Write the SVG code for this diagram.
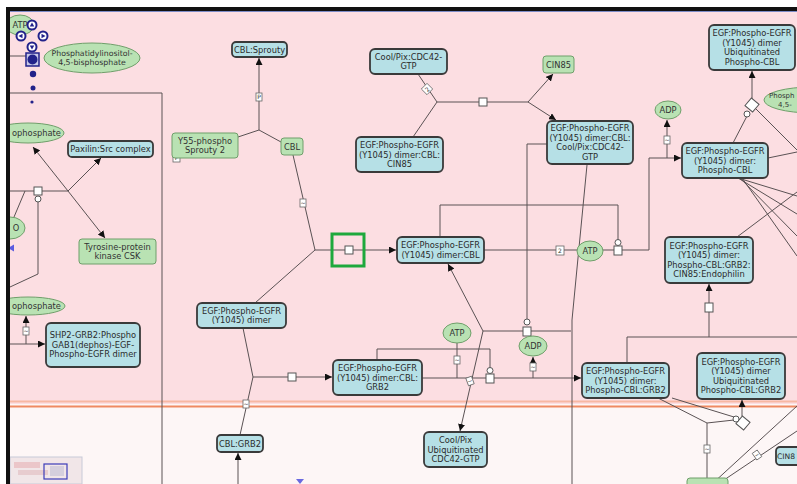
<svg xmlns="http://www.w3.org/2000/svg" width="797" height="484" viewBox="0 0 797 484">
<defs>
<marker id="arr" markerUnits="userSpaceOnUse" markerWidth="7" markerHeight="7" refX="7" refY="3.5" orient="auto"><path d="M0,0L7,3.5L0,7z" fill="#111"/></marker>
</defs>
<style>
.ln{fill:none;stroke:#5a5254;stroke-width:1}
.ar{marker-end:url(#arr)}
.cx{fill:#b6e0e6;stroke:#3a3a3a;stroke-width:1.8}
.sm{fill:#b9e2b3;stroke:#6f9f6a;stroke-width:1}
.t{font-family:"DejaVu Sans",sans-serif;font-size:8.3px;fill:#2b2b2b;text-anchor:middle}
.tg{font-family:"DejaVu Sans",sans-serif;font-size:8.3px;fill:#333;text-anchor:middle}
.pr{fill:#fff;stroke:#555;stroke-width:1}
.gl{fill:#fff;stroke:#666;stroke-width:0.8}
.gt{font-family:"DejaVu Sans",sans-serif;font-size:6px;fill:#333;text-anchor:middle}
.nav{fill:#fff;stroke:#22228a;stroke-width:2}
.navf{fill:#22228a}
</style>
<!-- canvas: pink cytosol, pale lower compartment -->
<rect x="0" y="0" width="797" height="484" fill="#fcdee2"/>
<rect x="0" y="404" width="797" height="80" fill="#fdf6f6"/>
<line x1="0" y1="401.5" x2="797" y2="401.5" stroke="#f7b8a4" stroke-width="2"/>
<line x1="0" y1="406.5" x2="797" y2="406.5" stroke="#ef8a62" stroke-width="2"/>

<g id="connectors">
<path class="ln" d="M10,56H26"/>
<path class="ln" d="M10,93H162V484"/>
<path class="ln" d="M10,191H68"/>
<path class="ln ar" d="M68,191L101,158"/>
<path class="ln ar" d="M68,191L33,147"/>
<path class="ln ar" d="M68,191L105,238"/>
<path class="ln" d="M25,191L14,217"/>
<path class="ln" d="M38,202V274L10,287"/>
<path class="ln ar" d="M10,344H45"/>
<path class="ln ar" d="M26,344V316"/>

<path class="ln ar" d="M259,130V58"/>
<path class="ln" d="M238,137L259,130L281,142"/>
<path class="ln" d="M293,155L315,250L255,303"/>
<path class="ln ar" d="M315,250H396"/>
<path class="ln" d="M243,328L253,377L240,435"/>
<path class="ln ar" d="M238,484V453"/>
<path class="ln ar" d="M253,377H332"/>
<path class="ln ar" d="M422,378H581"/>
<path class="ln ar" d="M533,378V357"/>
<path class="ln" d="M457,343V378"/>
<path class="ln" d="M377,360V349H490V368"/>
<path class="ln ar" d="M483,331L448,264"/>
<path class="ln ar" d="M483,331L460,431"/>
<path class="ln" d="M483,331H571"/>
<path class="ln" d="M547,144H527V319"/>
<path class="ln" d="M587,165L572,320V484"/>
<path class="ln" d="M440,237V205H618V240"/>
<path class="ln ar" d="M484,250H649V158H681"/>
<path class="ln ar" d="M667,158V120"/>
<path class="ln" d="M418,74L437,102L413,137"/>
<path class="ln" d="M437,102H528"/>
<path class="ln ar" d="M528,102L553,74"/>
<path class="ln ar" d="M528,102L556,120"/>

<path class="ln ar" d="M752,100V71"/>
<path class="ln" d="M747,116L733,143"/>
<path class="ln" d="M756,109L797,150"/>
<path class="ln" d="M768,158L797,152"/>
<path class="ln" d="M738,178L797,196M738,178L797,214M740,178L797,236M742,178L797,256"/>
<path class="ln" d="M737,237L797,192"/>
<path class="ln ar" d="M709,337V284"/>
<path class="ln" d="M627,363V337H797"/>
<path class="ln" d="M658,398L707,423L734,420"/>
<path class="ln" d="M672,398L734,417"/>
<path class="ln" d="M707,423V484"/>
<path class="ln ar" d="M742,416V400"/>
<path class="ln" d="M712,484L797,406"/>
<path class="ln" d="M718,484L797,431"/>
</g>

<g id="glyphs">
<rect class="pr" x="34" y="187" width="8" height="8"/><circle class="pr" cx="38" cy="199" r="3"/>
<rect class="pr" x="345" y="246" width="8" height="8"/>
<rect x="332" y="234" width="32" height="32" fill="none" stroke="#1ea83c" stroke-width="3"/>
<rect class="pr" x="288" y="373" width="8" height="8"/>
<rect class="pr" x="479" y="98" width="8" height="8"/>
<rect class="pr" x="486" y="374" width="8" height="9"/><circle class="pr" cx="490" cy="370.5" r="3"/>
<rect class="pr" x="523" y="327" width="8" height="9"/><circle class="pr" cx="527" cy="322" r="3"/>
<rect class="pr" x="614" y="246" width="8" height="9"/><circle class="pr" cx="618" cy="242.5" r="3"/>
<rect class="pr" x="705" y="303" width="8" height="9"/>
<rect class="pr" x="747" y="100" width="10" height="10" transform="rotate(40 752 105)"/><circle class="pr" cx="747" cy="114" r="3"/>
<rect class="pr" x="738" y="418" width="10" height="10" transform="rotate(40 743 423)"/><circle class="pr" cx="736" cy="419" r="3"/>

<g><rect class="gl" x="256" y="93" width="6" height="8"/><text class="gt" x="259" y="99">P</text></g>
<g><rect class="gl" x="173" y="154" width="7" height="8"/><text class="gt" x="176.5" y="160">P</text></g>
<g><rect class="gl" x="300" y="199" width="6" height="8"/><text class="gt" x="303" y="205">~</text></g>
<g><rect class="gl" x="243" y="400" width="6" height="8"/><text class="gt" x="246" y="406">~</text></g>
<g><rect class="gl" x="454" y="356" width="6" height="8"/><text class="gt" x="457" y="362">~</text></g>
<g transform="rotate(-20 470 381)"><rect class="gl" x="467" y="377" width="6" height="8"/><text class="gt" x="470" y="383">~</text></g>
<g><rect class="gl" x="530" y="363" width="6" height="8"/><text class="gt" x="533" y="369">~</text></g>
<g><rect class="gl" x="664" y="136" width="6" height="8"/><text class="gt" x="667" y="142">~</text></g>
<g transform="rotate(-45 427 89)"><rect class="gl" x="423" y="85" width="8" height="8"/><text class="gt" x="427" y="91.5">2</text></g>
<g><rect class="gl" x="556" y="246" width="8" height="9"/><text class="gt" x="560" y="252.5">2</text></g>
<g><rect class="gl" x="23" y="327" width="6" height="8"/><text class="gt" x="26" y="333">~</text></g>
<g><rect class="gl" x="704" y="445" width="6" height="8"/><text class="gt" x="707" y="451">~</text></g>
<g transform="rotate(-35 757 455)"><rect class="gl" x="754" y="451" width="6" height="8"/><text class="gt" x="757" y="457">~</text></g>
</g>

<!-- complexes -->
<g id="cbl-sprouty"><rect class="cx" x="232" y="42" width="55" height="15" rx="4"/><text class="t" x="259.5" y="52.5">CBL:Sprouty</text></g>
<g id="coolpix-cdc42"><rect class="cx" x="370" y="49" width="77" height="25" rx="5"/><text class="t" x="408.5" y="59.5">Cool/Pix:CDC42-</text><text class="t" x="408.5" y="69">GTP</text></g>
<g id="egfr-cbl-cin85"><rect class="cx" x="356" y="137" width="87" height="35" rx="5"/><text class="t" x="399.5" y="148">EGF:Phospho-EGFR</text><text class="t" x="399.5" y="157.5">(Y1045) dimer:CBL:</text><text class="t" x="399.5" y="167">CIN85</text></g>
<g id="egfr-cbl-coolpix"><rect class="cx" x="547" y="121" width="86" height="43" rx="5"/><text class="t" x="590" y="131">EGF:Phospho-EGFR</text><text class="t" x="590" y="140.5">(Y1045) dimer:CBL:</text><text class="t" x="590" y="150">Cool/Pix:CDC42-</text><text class="t" x="590" y="159.5">GTP</text></g>
<g id="egfr-ub-pcbl"><rect class="cx" x="709" y="25" width="86" height="45" rx="5"/><text class="t" x="752" y="36">EGF:Phospho-EGFR</text><text class="t" x="752" y="45.5">(Y1045) dimer</text><text class="t" x="752" y="55">Ubiquitinated</text><text class="t" x="752" y="64.5">Phospho-CBL</text></g>
<g id="egfr-pcbl"><rect class="cx" x="682" y="143" width="86" height="35" rx="5"/><text class="t" x="725" y="154">EGF:Phospho-EGFR</text><text class="t" x="725" y="163.5">(Y1045) dimer:</text><text class="t" x="725" y="173">Phospho-CBL</text></g>
<g id="egfr-cbl"><rect class="cx" x="397" y="237" width="87" height="26" rx="5"/><text class="t" x="440.5" y="248">EGF:Phospho-EGFR</text><text class="t" x="440.5" y="257.5">(Y1045) dimer:CBL</text></g>
<g id="egfr-endophilin"><rect class="cx" x="665" y="237" width="88" height="46" rx="5"/><text class="t" x="709" y="248.5">EGF:Phospho-EGFR</text><text class="t" x="709" y="258">(Y1045) dimer:</text><text class="t" x="709" y="267.5">Phospho-CBL:GRB2:</text><text class="t" x="709" y="277">CIN85:Endophilin</text></g>
<g id="egfr-dimer"><rect class="cx" x="197" y="303" width="89" height="25" rx="5"/><text class="t" x="241.5" y="313.5">EGF:Phospho-EGFR</text><text class="t" x="241.5" y="323">(Y1045) dimer</text></g>
<g id="egfr-cbl-grb2"><rect class="cx" x="333" y="360" width="89" height="35" rx="5"/><text class="t" x="377.5" y="371">EGF:Phospho-EGFR</text><text class="t" x="377.5" y="380.5">(Y1045) dimer:CBL:</text><text class="t" x="377.5" y="390">GRB2</text></g>
<g id="egfr-pcbl-grb2"><rect class="cx" x="582" y="363" width="87" height="35" rx="5"/><text class="t" x="625.5" y="374">EGF:Phospho-EGFR</text><text class="t" x="625.5" y="383.5">(Y1045) dimer:</text><text class="t" x="625.5" y="393">Phospho-CBL:GRB2</text></g>
<g id="egfr-ub-pcbl-grb2"><rect class="cx" x="697" y="353" width="88" height="46" rx="5"/><text class="t" x="741" y="364.5">EGF:Phospho-EGFR</text><text class="t" x="741" y="374">(Y1045) dimer</text><text class="t" x="741" y="383.5">Ubiquitinated</text><text class="t" x="741" y="393">Phospho-CBL:GRB2</text></g>
<g id="coolpix-ub"><rect class="cx" x="424" y="432" width="63" height="35" rx="5"/><text class="t" x="455.5" y="443">Cool/Pix</text><text class="t" x="455.5" y="452.5">Ubiquitinated</text><text class="t" x="455.5" y="462">CDC42-GTP</text></g>
<g id="cbl-grb2"><rect class="cx" x="217" y="435" width="46" height="17" rx="4"/><text class="t" x="240" y="446.5">CBL:GRB2</text></g>
<g id="paxilin-src"><rect class="cx" x="68" y="141" width="85" height="16" rx="4"/><text class="t" x="110.5" y="152">Paxilin:Src complex</text></g>
<g id="shp2-grb2"><rect class="cx" x="46" y="323" width="94" height="44" rx="5"/><text class="t" x="93" y="338">SHP2-GRB2:Phospho</text><text class="t" x="93" y="347.5">GAB1(dephos)-EGF-</text><text class="t" x="93" y="357">Phospho-EGFR dimer</text></g>
<g id="cin85-cx"><rect class="cx" x="776" y="447" width="30" height="18" rx="4"/><text class="t" x="777" y="459" style="text-anchor:start;font-size:7.6px">CIN8</text></g>

<!-- simple entities -->
<g id="y55-sprouty2"><rect class="sm" x="172" y="133" width="66" height="25" rx="3"/><text class="tg" x="205" y="143.5">Y55-phospho</text><text class="tg" x="205" y="153">Sprouty 2</text></g>
<g id="cbl"><rect class="sm" x="281" y="138" width="22" height="17" rx="3"/><text class="tg" x="292" y="149.5">CBL</text></g>
<g id="csk"><rect class="sm" x="79" y="239" width="77" height="25" rx="3"/><text class="tg" x="117.5" y="249.5">Tyrosine-protein</text><text class="tg" x="117.5" y="259">kinase CSK</text></g>
<g id="cin85"><rect class="sm" x="543" y="56" width="31" height="17" rx="3"/><text class="tg" x="558.5" y="67.5">CIN85</text></g>
<g id="bottom-entity"><rect class="sm" x="687" y="478" width="41" height="12" rx="3"/></g>

<g id="atp-tl"><ellipse class="sm" cx="20" cy="25" rx="14" ry="10"/><text class="tg" x="20" y="28">ATP</text></g>
<g id="pip2-l"><ellipse class="sm" cx="92" cy="58" rx="48" ry="15"/><text class="tg" x="92" y="56" style="font-size:7.8px">Phosphatidylinositol-</text><text class="tg" x="92" y="65" style="font-size:7.8px">4,5-bisphosphate</text></g>
<g id="pip-a"><ellipse class="sm" cx="28" cy="133" rx="36" ry="10"/><text class="tg" x="12" y="136" style="text-anchor:start">ophosphate</text></g>
<g id="h2o"><ellipse class="sm" cx="10" cy="228" rx="15" ry="11"/><text class="tg" x="16" y="231">O</text></g>
<g id="pip-b"><ellipse class="sm" cx="28" cy="306" rx="37" ry="9"/><text class="tg" x="12" y="309" style="text-anchor:start">ophosphate</text></g>
<g id="atp-1"><ellipse class="sm" cx="457" cy="333" rx="14" ry="10"/><text class="tg" x="457" y="336">ATP</text></g>
<g id="adp-1"><ellipse class="sm" cx="533" cy="346" rx="14" ry="10"/><text class="tg" x="533" y="349">ADP</text></g>
<g id="atp-2"><ellipse class="sm" cx="590" cy="251" rx="13" ry="10"/><text class="tg" x="590" y="254">ATP</text></g>
<g id="adp-2"><ellipse class="sm" cx="668" cy="110" rx="13" ry="9"/><text class="tg" x="668" y="113">ADP</text></g>
<g id="pip2-r"><ellipse class="sm" cx="812" cy="100" rx="48" ry="13"/><text class="tg" x="769" y="98" style="text-anchor:start;font-size:7px">Phosph</text><text class="tg" x="778" y="107" style="text-anchor:start;font-size:7px">4,5-</text></g>

<!-- markers and view controls -->
<path d="M8,248L14,244.5V251.5z" fill="#5a5ae0"/>
<path d="M296,479H304L300,484z" fill="#6a6ae0"/>
<g id="minimap">
<rect x="10" y="457" width="72" height="27" fill="#f1e6e8" stroke="#c8cad8" stroke-width="1"/>
<rect x="14" y="462" width="26" height="6" fill="#e8b8bc" opacity="0.7"/>
<rect x="18" y="470" width="30" height="5" fill="#e2c0c4" opacity="0.7"/>
<rect x="50" y="466" width="14" height="10" fill="#c9c4d8" opacity="0.7"/>
<rect x="44" y="464" width="23" height="15" fill="none" stroke="#3c3cb8" stroke-width="1.2"/>
</g>
<g id="nav">
<circle class="nav" cx="32" cy="25" r="4.5"/><path class="navf" d="M32,22.5L34.3,26.5H29.7z"/>
<circle class="nav" cx="21" cy="36" r="4.5"/><path class="navf" d="M18.5,36L22.5,33.7V38.3z"/>
<circle class="nav" cx="43" cy="36" r="4.5"/><path class="navf" d="M45.5,36L41.5,33.7V38.3z"/>
<circle class="nav" cx="32" cy="47" r="4.5"/><path class="navf" d="M32,49.5L34.3,45.5H29.7z"/>
<rect x="26" y="53" width="13" height="13" fill="#c8c8e8" stroke="#22228a" stroke-width="1.5"/><circle class="navf" cx="32.5" cy="59.5" r="5"/>
<circle class="navf" cx="33" cy="74" r="3.2"/>
<circle class="navf" cx="33" cy="88" r="2.5"/>
<circle class="navf" cx="32" cy="102" r="1.6"/>
</g>

<!-- window frame -->
<rect x="0" y="0" width="797" height="7" fill="#fff"/>
<rect x="0" y="0" width="6" height="484" fill="#fff"/>
<rect x="6" y="7" width="791" height="4" fill="#111"/>
<rect x="6" y="7" width="4" height="477" fill="#111"/>
<line x1="10" y1="11.5" x2="797" y2="11.5" stroke="#7c8cc8" stroke-width="1"/>
</svg>
